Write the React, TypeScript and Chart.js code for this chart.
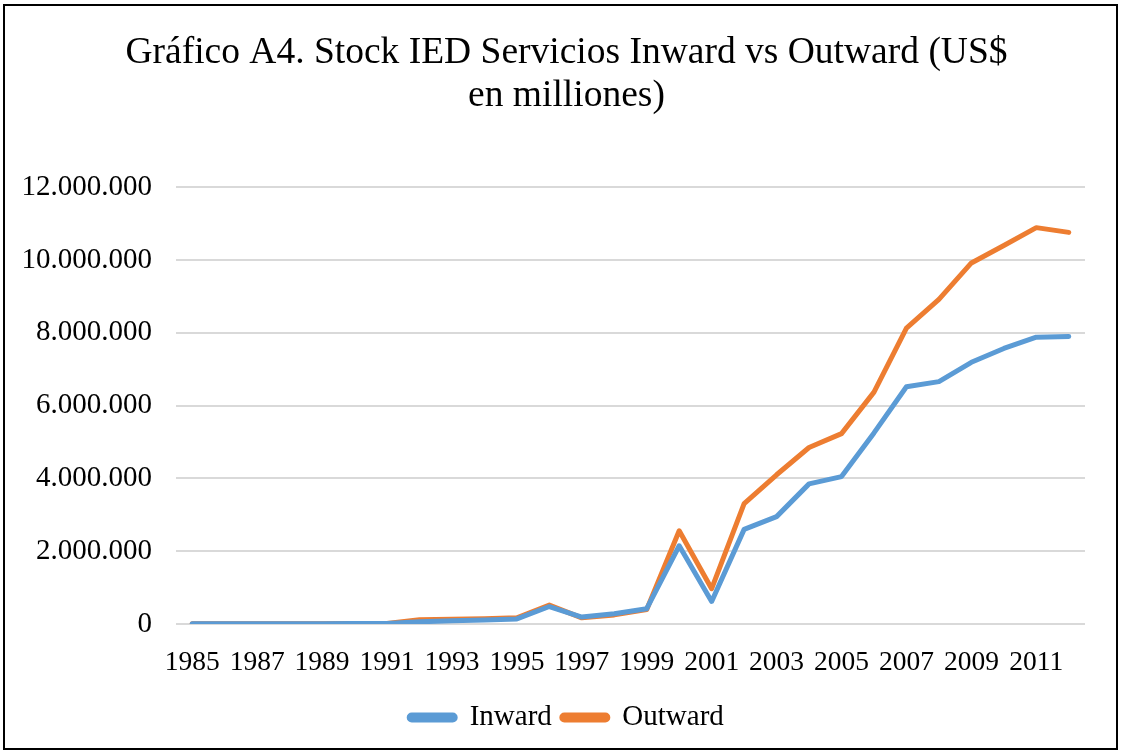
import React, { useEffect, useRef } from "react";
import { Chart, registerables } from "chart.js";

Chart.register(...registerables);

const years = [
  "1985", "1986", "1987", "1988", "1989", "1990", "1991", "1992", "1993", "1994",
  "1995", "1996", "1997", "1998", "1999", "2000", "2001", "2002", "2003", "2004",
  "2005", "2006", "2007", "2008", "2009", "2010", "2011", "2012",
];

const inward = [
  5000, 5000, 6000, 8000, 10000, 12000, 15000, 60000, 90000, 110000,
  140000, 480000, 190000, 280000, 420000, 2150000, 620000, 2600000, 2950000, 3850000,
  4050000, 5250000, 6520000, 6660000, 7190000, 7570000, 7880000, 7900000,
];

const outward = [
  5000, 5000, 6000, 8000, 10000, 12000, 15000, 120000, 130000, 145000,
  170000, 520000, 170000, 250000, 400000, 2560000, 970000, 3310000, 4100000, 4850000,
  5230000, 6370000, 8130000, 8920000, 9920000, 10400000, 10890000, 10760000,
];

const yTicks = [0, 2000000, 4000000, 6000000, 8000000, 10000000, 12000000];

const titleLines = [
  "Gráfico A4. Stock IED Servicios Inward vs Outward (US$",
  "en milliones)",
];

const fmt = (v: number) =>
  Math.round(v).toString().replace(/\B(?=(\d{3})+(?!\d))/g, ".");

// shifts title and legend horizontally so they are centred on the whole frame
const centerShift = {
  id: "centerShift",
  afterLayout(chart: any) {
    const dx = 13;
    const boxes = [chart.titleBlock, chart.legend];
    boxes.forEach((b: any) => {
      if (b) {
        b.left += dx;
        b.right += dx;
      }
    });
  },
};

export default function App() {
  const ref = useRef<HTMLCanvasElement | null>(null);

  useEffect(() => {
    if (!ref.current) return;
    const serif = "'Liberation Serif', 'Times New Roman', serif";
    const chart = new Chart(ref.current, {
      type: "line",
      data: {
        labels: years,
        datasets: [
          {
            label: "Inward",
            data: inward,
            borderColor: "#5B9BD5",
            backgroundColor: "#5B9BD5",
            borderWidth: 5,
            pointRadius: 0,
            tension: 0,
            borderCapStyle: "round",
            borderJoinStyle: "round",
          },
          {
            label: "Outward",
            data: outward,
            borderColor: "#ED7D31",
            backgroundColor: "#ED7D31",
            borderWidth: 5,
            pointRadius: 0,
            tension: 0,
            borderCapStyle: "round",
            borderJoinStyle: "round",
          },
        ],
      },
      plugins: [centerShift],
      options: {
        animation: false,
        responsive: false,
        maintainAspectRatio: false,
        layout: { padding: { left: 17, right: 31, top: 18, bottom: 6 } },
        plugins: {
          title: {
            display: true,
            text: titleLines,
            color: "#000",
            font: { family: serif, size: 37.5, weight: "normal", lineHeight: 1.15 },
            padding: { top: 7.5, bottom: 69.5 },
          },
          legend: {
            position: "bottom",
            labels: {
              color: "#000",
              font: { family: serif, size: 29 },
              boxWidth: 46,
              boxHeight: 5,
              useBorderRadius: true,
              borderRadius: 2.5,
              padding: 10,
            },
          },
          tooltip: { enabled: false },
        },
        scales: {
          x: {
            offset: true,
            grid: { display: false },
            border: { display: false },
            ticks: {
              color: "#000",
              font: { family: serif, size: 27.5 },
              autoSkip: false,
              maxRotation: 0,
              minRotation: 0,
              padding: 14,
              callback: (_v: any, i: number) => (i % 2 === 0 ? years[i] : ""),
            },
          },
          y: {
            min: 0,
            max: 12000000,
            afterBuildTicks: (axis: any) => {
              axis.ticks = yTicks.map((v) => ({ value: v }));
            },
            afterFit: (axis: any) => {
              axis.width = 154;
            },
            grid: { color: "#D9D9D9", lineWidth: 2, drawTicks: false },
            border: { display: false },
            ticks: {
              color: "#000",
              font: { family: serif, size: 29 },
              padding: 24,
              callback: (v: any) => fmt(Number(v)),
            },
          },
        },
      },
    });
    return () => chart.destroy();
  }, []);

  return (
    <div
      style={{
        position: "fixed",
        left: 3,
        top: 4,
        width: 1111,
        height: 742,
        border: "2px solid #000",
        background: "#fff",
      }}
    >
      <canvas ref={ref} width={1111} height={742} style={{ display: "block" }} />
    </div>
  );
}
